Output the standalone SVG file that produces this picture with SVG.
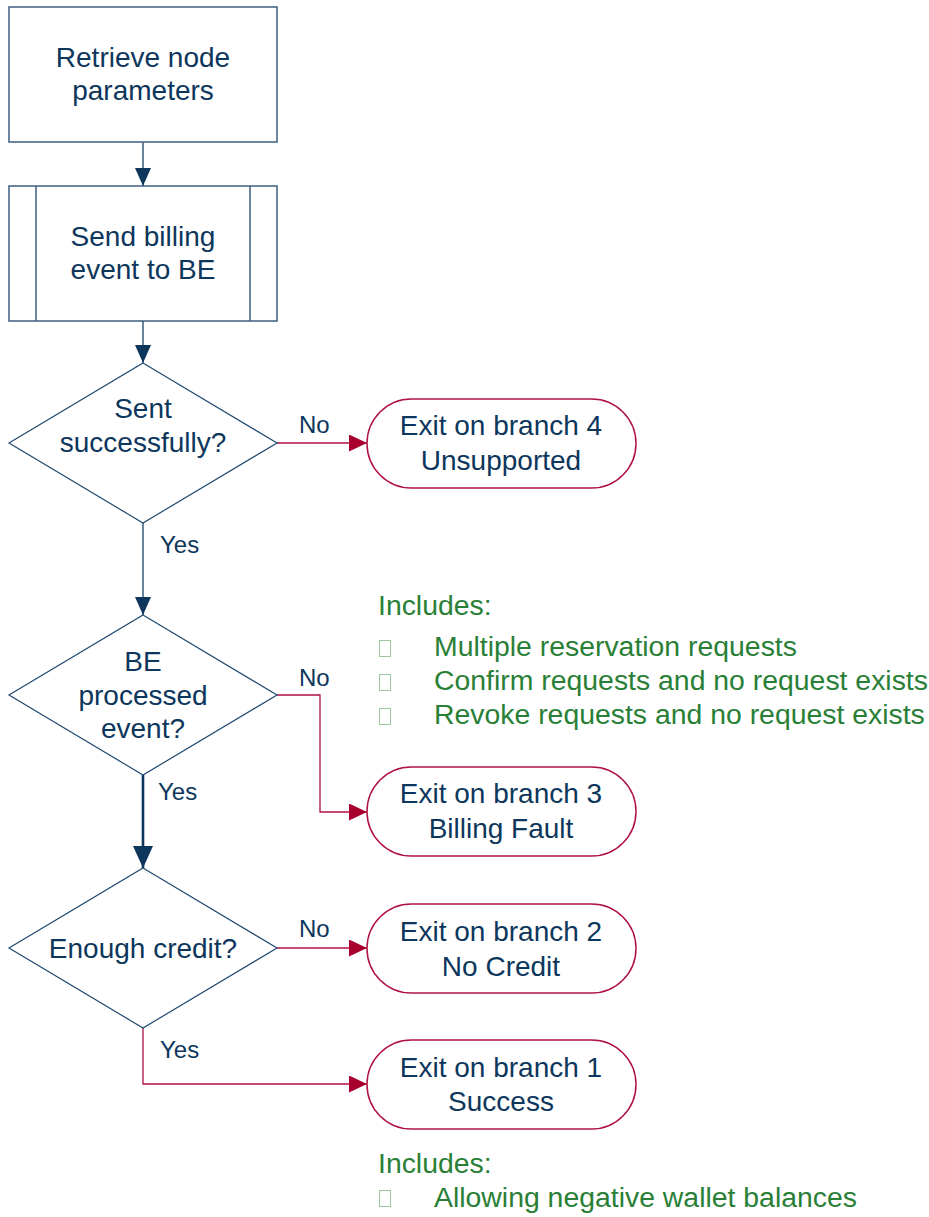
<svg xmlns="http://www.w3.org/2000/svg" width="929" height="1217" viewBox="0 0 929 1217">
<style>
.box{fill:#fff;stroke:#3d5f80;stroke-width:1.5}
.dia{fill:#fff;stroke:#1f4a70;stroke-width:1.2}
.term{fill:#fff;stroke:#b01443;stroke-width:1.5}
.t{font-family:"Liberation Sans",Arial,sans-serif;font-size:28px;fill:#0d365c;text-anchor:middle}
.lbl{font-family:"Liberation Sans",Arial,sans-serif;font-size:24px;fill:#0d365c}
.g{font-family:"Liberation Sans",Arial,sans-serif;font-size:28.4px;fill:#2a7f37}
.bul{fill:none;stroke:#9cc79f;stroke-width:1}
.cb{fill:none;stroke:#1a4468;stroke-width:1.3}
.cbt{fill:none;stroke:#0d365c;stroke-width:2.6}
.cr{fill:none;stroke:#b3103f;stroke-width:1.3}
</style>
<defs>
<marker id="ab" markerUnits="userSpaceOnUse" markerWidth="18" markerHeight="16" refX="18" refY="8" orient="auto"><path d="M0,0 L18,8 L0,16 z" fill="#0d365c"/></marker>
<marker id="abt" markerUnits="userSpaceOnUse" markerWidth="22" markerHeight="20" refX="22" refY="10" orient="auto"><path d="M0,0 L22,10 L0,20 z" fill="#0d365c"/></marker>
<marker id="ar" markerUnits="userSpaceOnUse" markerWidth="18" markerHeight="17" refX="18" refY="8.5" orient="auto"><path d="M0,0 L18,8.5 L0,17 z" fill="#a8002e"/></marker>
</defs>

<g id="connectors">
<path class="cb" d="M143,142 V186" marker-end="url(#ab)"/>
<path class="cb" d="M143,321 V363" marker-end="url(#ab)"/>
<path class="cb" d="M143,523 V615" marker-end="url(#ab)"/>
<path class="cbt" d="M143,775 V868" marker-end="url(#abt)"/>
<path class="cr" d="M277,443 H367" marker-end="url(#ar)"/>
<path class="cr" d="M277,695 H320 V812 H367" marker-end="url(#ar)"/>
<path class="cr" d="M277,948 H367" marker-end="url(#ar)"/>
<path class="cr" d="M143,1028 V1084 H367" marker-end="url(#ar)"/>
<text class="lbl" x="299" y="433">No</text>
<text class="lbl" x="160" y="553">Yes</text>
<text class="lbl" x="299" y="686">No</text>
<text class="lbl" x="158" y="800">Yes</text>
<text class="lbl" x="299" y="937">No</text>
<text class="lbl" x="160" y="1058">Yes</text>
</g>

<g id="retrieve">
<rect class="box" x="9" y="7" width="268" height="135"/>
<text class="t" x="143" y="67">Retrieve node</text>
<text class="t" x="143" y="100">parameters</text>
</g>

<g id="send">
<rect class="box" x="9" y="186" width="268" height="135"/>
<line class="box" x1="36" y1="186" x2="36" y2="321"/>
<line class="box" x1="250" y1="186" x2="250" y2="321"/>
<text class="t" x="143" y="246">Send billing</text>
<text class="t" x="143" y="279">event to BE</text>
</g>

<g id="sent-ok">
<polygon class="dia" points="143,363 277,443 143,523 9,443"/>
<text class="t" x="143" y="418">Sent</text>
<text class="t" x="143" y="452">successfully?</text>
</g>

<g id="exit4">
<rect class="term" x="367" y="399" width="269" height="89" rx="44.5" ry="44.5"/>
<text class="t" x="501" y="435">Exit on branch 4</text>
<text class="t" x="501" y="470">Unsupported</text>
</g>

<g id="be-processed">
<polygon class="dia" points="143,615 277,695 143,775 9,695"/>
<text class="t" x="143" y="671">BE</text>
<text class="t" x="143" y="705">processed</text>
<text class="t" x="143" y="738">event?</text>
</g>

<g id="exit3">
<rect class="term" x="367" y="767" width="269" height="89" rx="44.5" ry="44.5"/>
<text class="t" x="501" y="803">Exit on branch 3</text>
<text class="t" x="501" y="838">Billing Fault</text>
</g>

<g id="enough-credit">
<polygon class="dia" points="143,868 277,948 143,1028 9,948"/>
<text class="t" x="143" y="958">Enough credit?</text>
</g>

<g id="exit2">
<rect class="term" x="367" y="904" width="269" height="89" rx="44.5" ry="44.5"/>
<text class="t" x="501" y="941">Exit on branch 2</text>
<text class="t" x="501" y="976">No Credit</text>
</g>

<g id="exit1">
<rect class="term" x="367" y="1040" width="269" height="89" rx="44.5" ry="44.5"/>
<text class="t" x="501" y="1077">Exit on branch 1</text>
<text class="t" x="501" y="1111">Success</text>
</g>

<g id="note-billing-fault">
<text class="g" x="378" y="615">Includes:</text>
<rect class="bul" x="379.5" y="640.5" width="11" height="16"/>
<text class="g" x="434" y="656">Multiple reservation requests</text>
<rect class="bul" x="379.5" y="674.5" width="11" height="16"/>
<text class="g" x="434" y="690">Confirm requests and no request exists</text>
<rect class="bul" x="379.5" y="708.5" width="11" height="16"/>
<text class="g" x="434" y="724">Revoke requests and no request exists</text>
</g>

<g id="note-success">
<text class="g" x="378" y="1173">Includes:</text>
<rect class="bul" x="379.5" y="1190.5" width="11" height="16"/>
<text class="g" x="434" y="1207">Allowing negative wallet balances</text>
</g>
</svg>
